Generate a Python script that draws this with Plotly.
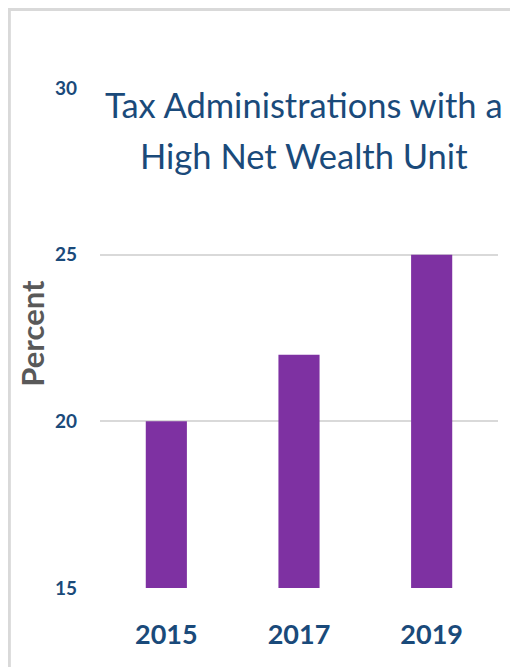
import plotly.graph_objects as go

years = ["2015", "2017", "2019"]
percent = [20, 22, 25]
y_ticks = [15, 20, 25, 30]
title_lines = ["Tax Administrations with a", "High Net Wealth Unit"]
y_title = "Percent"

navy = "#1A4A7A"
grid = "#D9D9D9"

fig = go.Figure(go.Bar(x=years, y=percent, marker=dict(color="#7E31A2", line=dict(width=0)), width=0.31))

title_font = dict(size=34.5, color=navy, family="Lato, sans-serif")

fig.update_layout(
    width=510, height=659,
    margin=dict(l=92, r=20, t=80, b=79),
    paper_bgcolor="white", plot_bgcolor="white",
    showlegend=False,
    font=dict(family="Lato, Open Sans, sans-serif"),
    xaxis=dict(type="category", showgrid=False, showline=False, zeroline=False,
               tickfont=dict(size=27, color=navy, family="Lato, sans-serif", weight="bold"),
               ticks="", ticklabelstandoff=28),
    yaxis=dict(range=[15, 30], tickvals=y_ticks, showgrid=True, gridcolor=grid, gridwidth=2,
               zeroline=False, showline=False, ticks="",
               tickfont=dict(size=19, color=navy, family="Lato, sans-serif", weight="bold"),
               ticklabelstandoff=22),
    shapes=[dict(type="rect", xref="paper", yref="paper", x0=-0.229, x1=1.1, y0=-0.3, y1=1.158,
                 line=dict(color=grid, width=4), fillcolor="rgba(0,0,0,0)", layer="below")],
    annotations=[
        dict(text=title_lines[0], xref="paper", yref="paper", x=0.5126, y=0.967, xanchor="center", yanchor="middle",
             showarrow=False, bgcolor="white", font=title_font),
        dict(text=title_lines[1], xref="paper", yref="paper", x=0.5126, y=0.865, xanchor="center", yanchor="middle",
             showarrow=False, font=title_font),
        dict(text=y_title, xref="paper", yref="paper", x=-0.173, y=0.509, xanchor="center", yanchor="middle",
             textangle=-90, showarrow=False,
             font=dict(size=31, color="#595959", family="Lato, sans-serif", weight="bold")),
    ],
)

fig.write_html("out.html")
